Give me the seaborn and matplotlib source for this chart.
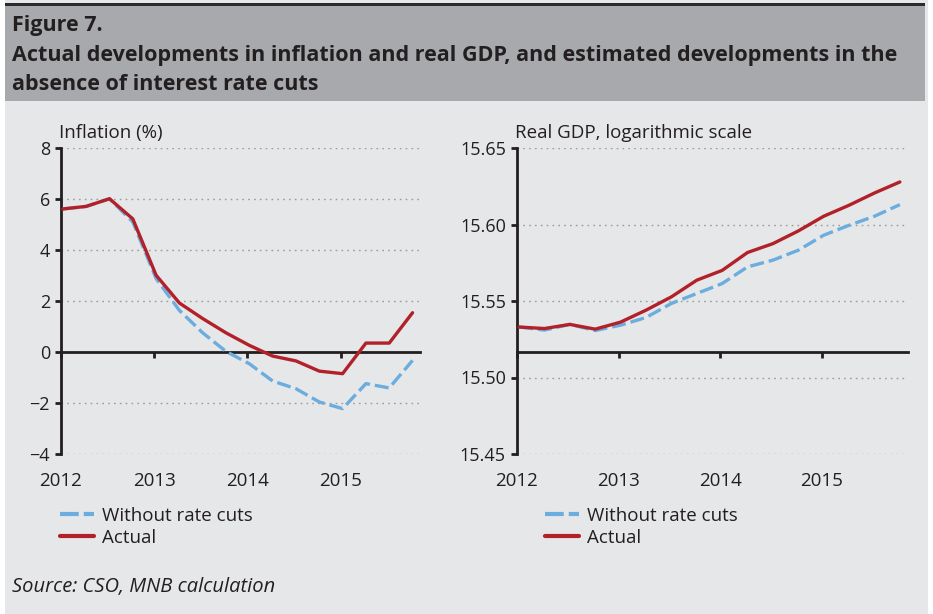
import numpy as np
import pandas as pd
import seaborn as sns
import matplotlib.pyplot as plt
from matplotlib.patches import Rectangle

# quarterly data, 2012Q1 - 2015Q4
quarters = np.arange(16)
years = [2012, 2013, 2014, 2015]

infl_actual = [5.61, 5.71, 6.01, 5.22, 3.01, 1.92, 1.31, 0.75,
               0.26, -0.16, -0.35, -0.75, -0.85, 0.35, 0.35, 1.54]
infl_no_cuts = [5.61, 5.71, 6.01, 5.10, 2.88, 1.63, 0.75, 0.02,
                -0.46, -1.14, -1.44, -1.96, -2.22, -1.24, -1.41, -0.33]

gdp_actual = [15.533, 15.532, 15.5347, 15.5316, 15.5362, 15.544, 15.5527, 15.5636,
              15.570, 15.5817, 15.5875, 15.5958, 15.6054, 15.6126, 15.6206, 15.6278]
gdp_no_cuts = [15.533, 15.531, 15.5347, 15.5307, 15.5342, 15.5392, 15.5484, 15.5549,
               15.5614, 15.5723, 15.5767, 15.5832, 15.593, 15.5995, 15.6054, 15.613]

series_names = ['Without rate cuts', 'Actual']

BLUE = '#6badde'
RED = '#b2212a'
TXT = '#231f20'
BG = '#e6e7e8'

sns.set_theme(style='white')
plt.rcParams['font.family'] = ['Open Sans', 'DejaVu Sans']
plt.rcParams['text.color'] = TXT
plt.rcParams['axes.labelcolor'] = TXT
plt.rcParams['xtick.color'] = TXT
plt.rcParams['ytick.color'] = TXT


def long_df(no_cuts, actual):
    x = 2012.02 + quarters / 4
    return pd.concat([
        pd.DataFrame({'x': x, 'y': no_cuts, 'series': series_names[0]}),
        pd.DataFrame({'x': x, 'y': actual, 'series': series_names[1]}),
    ])


fig = plt.figure(figsize=(9.33, 6.14), dpi=100)
fig.patch.set_facecolor('white')

# background boxes
fig.add_artist(Rectangle((5 / 933, 0), 923 / 933, 1, transform=fig.transFigure,
                         facecolor=BG, edgecolor='none', zorder=-10))
fig.add_artist(Rectangle((5 / 933, 1 - 101 / 614), 920 / 933, 96 / 614,
                         transform=fig.transFigure, facecolor='#a7a9ac',
                         edgecolor='none', zorder=-9))
fig.add_artist(Rectangle((5 / 933, 1 - 6 / 614), 920 / 933, 3 / 614,
                         transform=fig.transFigure, facecolor='#2b2b2b',
                         edgecolor='none', zorder=-8))

fig.text(12 / 933, 1 - 25 / 614, 'Figure 7.', fontsize=15.5, fontweight='bold',
         va='center', ha='left')
fig.text(12 / 933, 1 - 55 / 614,
         'Actual developments in inflation and real GDP, and estimated developments in the',
         fontsize=15.5, fontweight='bold', va='center', ha='left')
fig.text(12 / 933, 1 - 84 / 614, 'absence of interest rate cuts',
         fontsize=15.5, fontweight='bold', va='center', ha='left')
fig.text(12 / 933, 1 - 587 / 614, 'Source: CSO, MNB calculation', fontsize=14.5,
         fontstyle='italic', va='center', ha='left')

panels = [
    dict(rect=[61 / 933, 160 / 614, 359 / 933, 306 / 614],
         no_cuts=infl_no_cuts, actual=infl_actual, ylim=(-4, 8),
         yticks=np.arange(-4, 9, 2), cross=0, fmt='{:.0f}',
         label='Inflation (%)', leg_x=60 / 933),
    dict(rect=[517 / 933, 160 / 614, 391 / 933, 306 / 614],
         no_cuts=gdp_no_cuts, actual=gdp_actual, ylim=(15.45, 15.65),
         yticks=[15.45, 15.50, 15.55, 15.60, 15.65], cross=15.5168, fmt='{:.2f}',
         label='Real GDP, logarithmic scale', leg_x=545 / 933),
]

for p in panels:
    ax = fig.add_axes(p['rect'])
    ax.set_facecolor('none')
    df = long_df(p['no_cuts'], p['actual'])
    sns.lineplot(data=df, x='x', y='y', hue='series', style='series',
                 palette=[BLUE, RED], dashes=[(4.2, 1.5), ''], linewidth=2.4,
                 ax=ax, legend=False, zorder=3)
    ax.set_xlim(2012, 2015.85)
    ax.set_ylim(*p['ylim'])
    ax.set_xlabel('')
    ax.set_ylabel('')

    # dotted gridlines except where the x axis crosses
    for v in p['yticks']:
        if abs(v - p['cross']) > 1e-6:
            ax.axhline(v, color='#9b9b9b', linestyle=(0, (1.2, 3)), linewidth=1, zorder=1)

    ax.set_yticks(p['yticks'])
    ax.set_yticklabels([p['fmt'].format(v).replace('-', '\u2212') for v in p['yticks']],
                       fontsize=13)
    ax.tick_params(axis='y', length=4, width=2, pad=4, direction='out', left=True)

    for s in ['top', 'right']:
        ax.spines[s].set_visible(False)
    ax.spines['left'].set_linewidth(2)
    ax.spines['left'].set_color('#231f20')
    ax.spines['bottom'].set_position(('data', p['cross']))
    ax.spines['bottom'].set_linewidth(2)
    ax.spines['bottom'].set_color('#231f20')
    ax.set_xticks(years)
    ax.tick_params(axis='x', length=4, width=2, direction='out', bottom=True,
                   labelbottom=False)

    sec = ax.secondary_xaxis(0.0)
    sec.set_xticks(years)
    sec.set_xticklabels([str(y) for y in years], fontsize=13.5)
    sec.tick_params(length=0, pad=13)
    sec.spines['bottom'].set_visible(False)

    fig.text(p['rect'][0] - 2 / 933, 1 - 133 / 614, p['label'], fontsize=13.5,
             va='center', ha='left')

    handles = [plt.Line2D([], [], color=BLUE, linewidth=3, dashes=(4.5, 1.2)),
               plt.Line2D([], [], color=RED, linewidth=3)]
    fig.legend(handles, series_names, loc='upper left',
               bbox_to_anchor=(p['leg_x'], 1 - 507 / 614), frameon=False,
               fontsize=13.5, handlelength=1.8, handletextpad=0.45,
               labelspacing=0.2, borderpad=0, borderaxespad=0)

fig.savefig('out.png', dpi=100)
